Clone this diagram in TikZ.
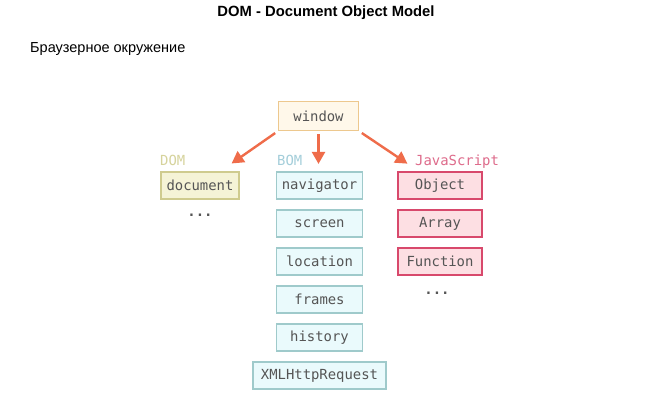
\documentclass[tikz,border=0pt]{standalone}
\usepackage{fontspec}
\setmainfont{Liberation Sans}
\newfontfamily\domMono{DejaVu Sans Mono}
\usetikzlibrary{arrows.meta}
% group colours
\definecolor{winFill}{HTML}{FFF8EA}
\definecolor{winLine}{HTML}{EDC88E}
\definecolor{domFill}{HTML}{F5F3D6}
\definecolor{domLine}{HTML}{CFCB8E}
\definecolor{domText}{HTML}{D6D39C}
\definecolor{bomFill}{HTML}{EAFAFC}
\definecolor{bomLine}{HTML}{9FCACB}
\definecolor{bomText}{HTML}{A4CEDA}
\definecolor{jsFill}{HTML}{FDDFE3}
\definecolor{jsLine}{HTML}{D8496C}
\definecolor{jsText}{HTML}{DE6B8B}
\definecolor{arrowOrange}{HTML}{EF6C4A}
\definecolor{boxText}{HTML}{555555}
\begin{document}
\begin{tikzpicture}[x=1pt, y=-1pt,
  objbox/.style={draw, rectangle, line width=1.7pt, inner sep=0pt, minimum height=27.5pt,
    text=boxText, font=\domMono\fontsize{13.9}{16}\selectfont},
  winbox/.style={objbox, fill=winFill, draw=winLine, minimum width=80pt, minimum height=29pt},
  dombox/.style={objbox, fill=domFill, draw=domLine, minimum width=78pt},
  bombox/.style={objbox, fill=bomFill, draw=bomLine, minimum width=86pt},
  jsbox/.style={objbox, fill=jsFill, draw=jsLine, minimum width=84pt},
  grouplabel/.style={anchor=base west, inner sep=0pt, font=\domMono\fontsize{13.9}{16}\selectfont},
  morelabel/.style={inner sep=0pt, text=boxText, font=\domMono\bfseries\fontsize{13.9}{16}\selectfont},
  link/.style={draw=arrowOrange, line width=2.4pt, -{Triangle[length=12pt,width=13pt]}, shorten <=3pt}]
  % Canvas
  \fill[white] (0,0) rectangle (650,400);
  \useasboundingbox (0,0) rectangle (650,400);
  % Headings
  \node[font=\bfseries\fontsize{14.8}{17}\selectfont] (title) at (326,13) {DOM - Document Object Model};
  \node[anchor=west, inner sep=0pt, font=\fontsize{14.5}{17}\selectfont] (subtitle) at (30,49) {Браузерное окружение};
  % Root object
  \node[winbox] (window) at (318.5,116) {window};
  % DOM group
  \node[grouplabel, text=domText] (domlabel) at (160,165) {DOM};
  \node[dombox] (document) at (200,185.5) {document};
  \node[morelabel] (dommore) at (200,215) {...};
  % BOM group
  \node[grouplabel, text=bomText] (bomlabel) at (277,165) {BOM};
  \foreach \name [count=\i from 0] in {navigator,screen,location,frames,history}
    \node[bombox] (\name) at (319.5,185.5+38*\i) {\name};
  \node[bombox, minimum width=133pt] (xhr) at (319.5,375.5) {XMLHttpRequest};
  % JavaScript group
  \node[grouplabel, text=jsText] (jslabel) at (415,165) {JavaScript};
  \node[jsbox] (object) at (440,185.5) {Object};
  \node[jsbox] (array) at (440,223.5) {Array};
  \node[jsbox] (function) at (440,261.5) {Function};
  \node[morelabel] (jsmore) at (437,293) {...};
  % Arrows
  \draw[link, shorten >=13pt] (window.south west) -- (document);
  \draw[link, shorten >=7pt] (window.south) -- (window.south |- navigator.north);
  \draw[link, shorten >=13pt] (window.south east) -- (object);
\end{tikzpicture}
\end{document}
